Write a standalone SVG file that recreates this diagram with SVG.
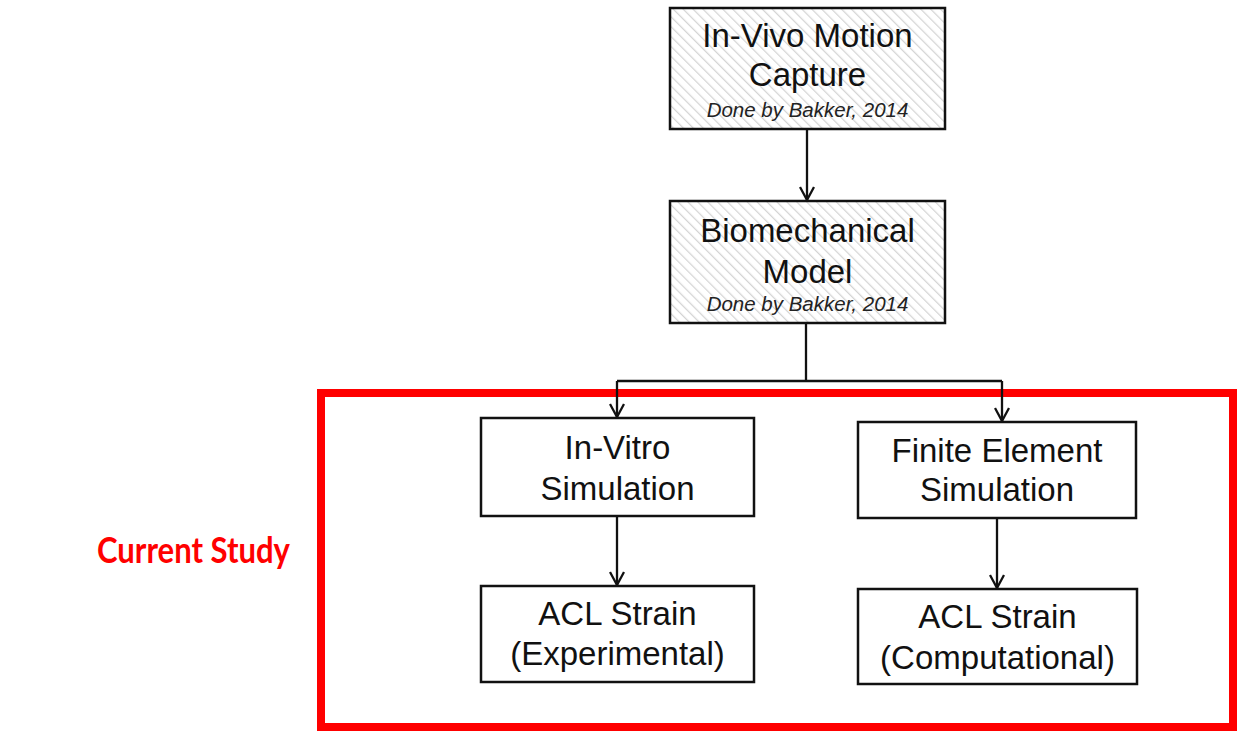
<svg xmlns="http://www.w3.org/2000/svg" width="1237" height="731" viewBox="0 0 1237 731">
<style>
.box{fill:#fff;stroke:#111;stroke-width:2.5}
.hbox{fill:url(#hatch);stroke:#111;stroke-width:2.5}
.t{font-family:"Liberation Sans",Arial,sans-serif;font-size:33px;fill:#111;text-anchor:middle}
.it{font-family:"Liberation Sans",Arial,sans-serif;font-size:20.5px;font-style:italic;fill:#222;text-anchor:middle}
.con{fill:none;stroke:#111;stroke-width:2.3}
</style>
<defs>
<pattern id="hatch" patternUnits="userSpaceOnUse" width="7" height="7" patternTransform="rotate(-45)">
<rect width="7" height="7" fill="#fff"/>
<line x1="0" y1="0" x2="0" y2="7" stroke="#d4d4d4" stroke-width="2.5"/>
</pattern>
<marker id="arr" viewBox="0 0 16 16" refX="15" refY="8" markerWidth="16" markerHeight="16" markerUnits="userSpaceOnUse" orient="auto">
<path d="M2,1 L15,8 L2,15" fill="none" stroke="#111" stroke-width="2.3"/>
</marker>
</defs>
<rect width="1237" height="731" fill="#fff"/>
<g id="frame">
<rect x="321" y="393" width="912" height="334" fill="none" stroke="#ff0000" stroke-width="8"/>
</g>
<g id="label-current-study">
<text x="193.5" y="563" text-anchor="middle" font-family="Lato,'Open Sans',Calibri,sans-serif" font-weight="bold" font-size="36" fill="#ff0000" textLength="193" lengthAdjust="spacingAndGlyphs">Current Study</text>
</g>
<g id="connectors">
<line class="con" x1="807" y1="129" x2="807" y2="200" marker-end="url(#arr)"/>
<polyline class="con" points="806,323 806,381"/>
<polyline class="con" points="617,381 1002,381"/>
<line class="con" x1="617" y1="381" x2="617" y2="417" marker-end="url(#arr)"/>
<line class="con" x1="1002" y1="381" x2="1002" y2="421" marker-end="url(#arr)"/>
<line class="con" x1="617" y1="516" x2="617" y2="585" marker-end="url(#arr)"/>
<line class="con" x1="997" y1="518" x2="997" y2="588" marker-end="url(#arr)"/>
</g>
<g id="n-motion-capture">
<rect class="hbox" x="670" y="8" width="275" height="121"/>
<text class="t" x="807.5" y="47">In-Vivo Motion</text>
<text class="t" x="807.5" y="86">Capture</text>
<text class="it" x="807.5" y="117">Done by Bakker, 2014</text>
</g>
<g id="n-biomech">
<rect class="hbox" x="670" y="201" width="275" height="122"/>
<text class="t" x="807.5" y="242">Biomechanical</text>
<text class="t" x="807.5" y="283">Model</text>
<text class="it" x="807.5" y="311">Done by Bakker, 2014</text>
</g>
<g id="n-invitro">
<rect class="box" x="481" y="418" width="273" height="98"/>
<text class="t" x="617.5" y="459">In-Vitro</text>
<text class="t" x="617.5" y="500">Simulation</text>
</g>
<g id="n-fe">
<rect class="box" x="858" y="422" width="278" height="96"/>
<text class="t" x="997" y="462">Finite Element</text>
<text class="t" x="997" y="501">Simulation</text>
</g>
<g id="n-acl-exp">
<rect class="box" x="481" y="586" width="273" height="96"/>
<text class="t" x="617.5" y="625">ACL Strain</text>
<text class="t" x="617.5" y="665">(Experimental)</text>
</g>
<g id="n-acl-comp">
<rect class="box" x="858" y="589" width="279" height="95"/>
<text class="t" x="997.5" y="628">ACL Strain</text>
<text class="t" x="997.5" y="669">(Computational)</text>
</g>
</svg>
